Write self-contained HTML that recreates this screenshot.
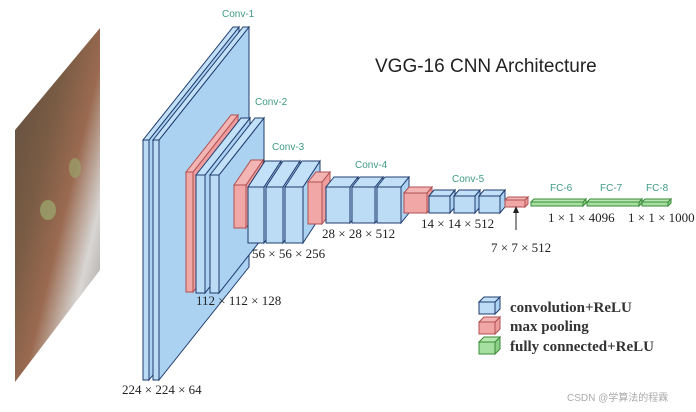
<!DOCTYPE html>
<html><head><meta charset="utf-8"><style>
html,body{margin:0;padding:0;background:#fff;width:696px;height:412px;overflow:hidden}
svg{display:block}
.l{font-family:"Liberation Sans",sans-serif;font-size:10px;fill:#3f9a86}
.d{font-family:"Liberation Serif",serif;font-size:13px;fill:#222}
.g{font-family:"Liberation Serif",serif;font-size:15px;font-weight:bold;fill:#333}
</style></head><body>
<svg id="s" width="696" height="412" viewBox="0 0 696 412" xmlns="http://www.w3.org/2000/svg">
<defs>
<linearGradient id="cat" x1="0" y1="0" x2="1" y2="1">
<stop offset="0" stop-color="#5d4d40"/><stop offset="0.35" stop-color="#7a5c44"/>
<stop offset="0.55" stop-color="#9a6a50"/><stop offset="0.75" stop-color="#d8d6d4"/><stop offset="1" stop-color="#8d8580"/>
</linearGradient>
</defs>
<polygon points="15,130 100,28 100,270 15,382" fill="url(#cat)"/>
<ellipse cx="48" cy="210" rx="8" ry="10" fill="#9aa36a" opacity="0.8"/>
<ellipse cx="75" cy="168" rx="6" ry="10" fill="#9aa36a" opacity="0.7"/>
<g id="boxes" stroke="#1f3b6e" stroke-width="1"></g>
<text class="l" x="222" y="17">Conv-1</text>
<text class="l" x="255" y="105">Conv-2</text>
<text class="l" x="272" y="150">Conv-3</text>
<text class="l" x="355" y="168">Conv-4</text>
<text class="l" x="452" y="182">Conv-5</text>
<text class="l" x="550" y="191">FC-6</text>
<text class="l" x="600" y="191">FC-7</text>
<text class="l" x="646" y="191">FC-8</text>
<text class="d" x="122" y="394">224 × 224 × 64</text>
<text class="d" x="196" y="305">112 × 112 × 128</text>
<text class="d" x="252" y="258">56 × 56 × 256</text>
<text class="d" x="322" y="238">28 × 28 × 512</text>
<text class="d" x="421" y="228">14 × 14 × 512</text>
<text class="d" x="491" y="252">7 × 7 × 512</text>
<text class="d" x="548" y="222">1 × 1 × 4096</text>
<text class="d" x="628" y="222">1 × 1 × 1000</text>
<line x1="516" y1="230" x2="516" y2="210" stroke="#222" stroke-width="1"/>
<polygon points="513,213 516,206 519,213" fill="#222"/>
<text x="375" y="72" font-family="Liberation Sans,sans-serif" font-size="19" fill="#222">VGG-16 CNN Architecture</text>
<text class="g" x="510" y="312">convolution+ReLU</text>
<text class="g" x="510" y="331">max pooling</text>
<text class="g" x="510" y="351">fully connected+ReLU</text>
<text x="567" y="401" font-family="Liberation Sans,'Noto Sans CJK SC',sans-serif" font-size="10" fill="#aaa">CSDN @学算法的程霖</text>
</svg>
<script>
var g=document.getElementById('boxes');var ns='http://www.w3.org/2000/svg';
var C={b:['#bcdcf5','#acd2f2','#c2e0f7','#1f3b6e'],p:['#f2a7a7','#ee9c9c','#f3b4b4','#b05050'],g:['#a6e0a0','#8ccf86','#b5e8ae','#3a8a3a']};
function P(pts,f,s){var e=document.createElementNS(ns,'polygon');e.setAttribute('points',pts.map(function(p){return p.join(',')}).join(' '));e.setAttribute('fill',f);e.setAttribute('stroke',s);g.appendChild(e);}
function box(x,y,w,h,dx,dy,t){var c=C[t];
P([[x+w,y],[x+w+dx,y+dy],[x+w+dx,y+h+dy],[x+w,y+h]],c[1],c[3]);
P([[x,y],[x+dx,y+dy],[x+w+dx,y+dy],[x+w,y]],c[2],c[3]);
P([[x,y],[x+w,y],[x+w,y+h],[x,y+h]],c[0],c[3]);}
box(143,140,6,240,90,-113,'b');box(153,140,6,240,90,-113,'b');
box(186,172,7,120,45,-57,'p');box(196,175,9,118,45,-57,'b');box(210,175,9,118,45,-57,'b');
box(234,185,12,43,17,-25,'p');box(248,187,16,56,17,-26,'b');box(266,187,17,56,17,-26,'b');box(285,187,18,56,17,-26,'b');
box(308,182,14,42,8,-10,'p');box(326,187,24,36,8,-10,'b');box(352,187,23,36,8,-10,'b');box(377,187,24,36,8,-10,'b');
box(404,193,23,20,5,-6,'p');box(429,196,21,17,5,-6,'b');box(454,196,21,17,5,-6,'b');box(479,196,21,17,5,-6,'b');
box(505,200,20,7,3,-3,'p');
box(531,202,52,4,3,-3,'g');box(587,202,52,4,3,-3,'g');box(642,202,26,4,3,-3,'g');
box(479,302,16,12,5,-5,'b');box(479,322,16,12,5,-5,'p');box(479,342,16,12,5,-5,'g');
</script>
</body></html>
